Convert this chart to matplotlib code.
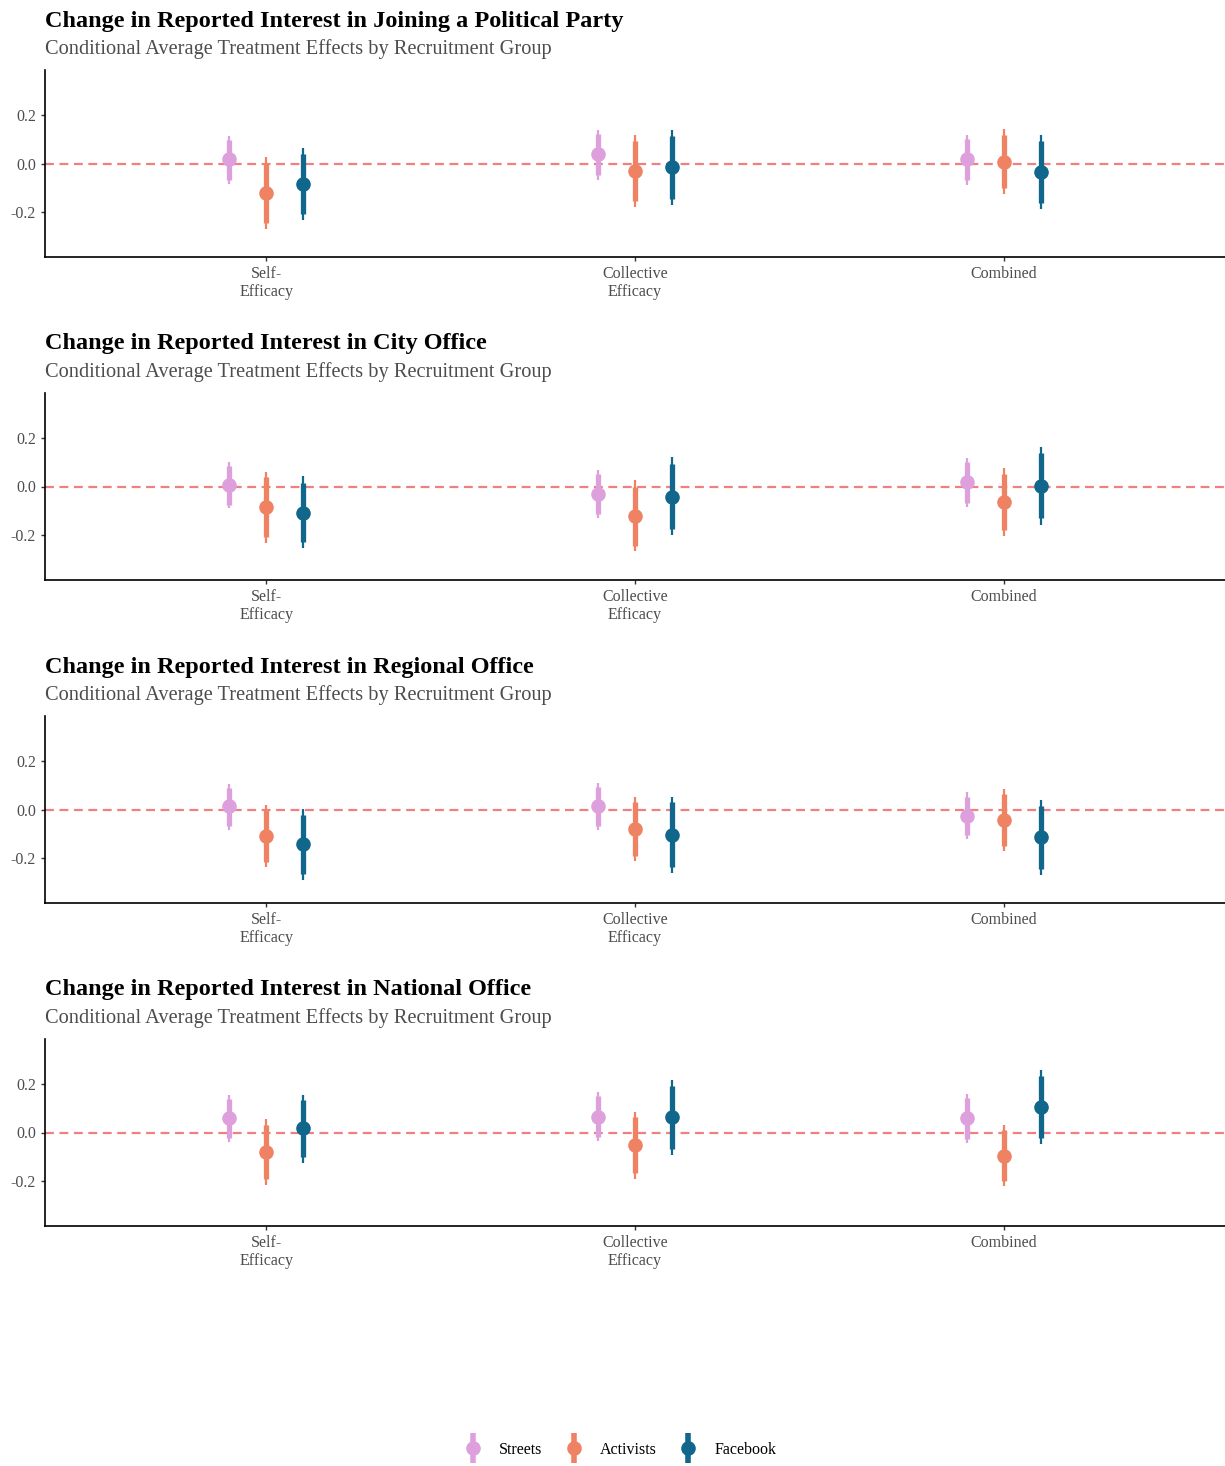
import matplotlib
matplotlib.use("Agg")
import matplotlib.pyplot as plt
from matplotlib.lines import Line2D
from matplotlib.legend_handler import HandlerTuple
import numpy as np

plt.rcParams['font.family'] = ['Liberation Serif', 'DejaVu Serif']

titles = ['Change in Reported Interest in Joining a Political Party',
          'Change in Reported Interest in City Office',
          'Change in Reported Interest in Regional Office',
          'Change in Reported Interest in National Office']
subtitle = 'Conditional Average Treatment Effects by Recruitment Group'
categories = ['Self-\nEfficacy', 'Collective\nEfficacy', 'Combined']
groups = ['Streets', 'Activists', 'Facebook']
colors = ['#DDA0DD', '#EF8262', '#10668B']

# [panel][group] -> values for the three treatments
estimate = [
    [[0.018, 0.038, 0.018], [-0.121, -0.030, 0.008], [-0.083, -0.016, -0.034]],
    [[0.007, -0.030, 0.019], [-0.085, -0.121, -0.063], [-0.107, -0.041, 0.003]],
    [[0.014, 0.015, -0.026], [-0.108, -0.078, -0.044], [-0.142, -0.103, -0.112]],
    [[0.059, 0.063, 0.059], [-0.081, -0.051, -0.095], [0.018, 0.062, 0.104]],
]
inner_lo = [
    [[-0.067, -0.049, -0.069], [-0.244, -0.155, -0.102], [-0.205, -0.146, -0.162]],
    [[-0.074, -0.111, -0.066], [-0.208, -0.244, -0.179], [-0.227, -0.175, -0.129]],
    [[-0.067, -0.067, -0.105], [-0.215, -0.190, -0.151], [-0.266, -0.236, -0.242]],
    [[-0.021, -0.019, -0.026], [-0.192, -0.167, -0.197], [-0.101, -0.067, -0.023]],
]
inner_hi = [
    [[0.097, 0.121, 0.099], [0.001, 0.093, 0.118], [0.039, 0.113, 0.094]],
    [[0.085, 0.051, 0.101], [0.038, 0.000, 0.053], [0.016, 0.093, 0.136]],
    [[0.089, 0.093, 0.052], [-0.001, 0.032, 0.062], [-0.021, 0.029, 0.015]],
    [[0.137, 0.148, 0.141], [0.032, 0.063, 0.011], [0.132, 0.189, 0.230]],
]
outer_lo = [
    [[-0.083, -0.067, -0.087], [-0.268, -0.178, -0.124], [-0.233, -0.171, -0.186]],
    [[-0.090, -0.127, -0.082], [-0.232, -0.266, -0.203], [-0.252, -0.200, -0.156]],
    [[-0.082, -0.085, -0.122], [-0.236, -0.211, -0.170], [-0.288, -0.260, -0.267]],
    [[-0.037, -0.036, -0.041], [-0.215, -0.190, -0.218], [-0.126, -0.092, -0.048]],
]
outer_hi = [
    [[0.113, 0.137, 0.117], [0.026, 0.116, 0.141], [0.063, 0.137, 0.118]],
    [[0.101, 0.067, 0.118], [0.060, 0.026, 0.075], [0.044, 0.121, 0.162]],
    [[0.104, 0.110, 0.070], [0.018, 0.053, 0.082], [0.003, 0.053, 0.038]],
    [[0.155, 0.164, 0.159], [0.055, 0.086, 0.032], [0.155, 0.216, 0.255]],
]

W, H = 1225, 1466
fig = plt.figure(figsize=(W / 100, H / 100), dpi=100)

gray = '#4D4D4D'
x = np.arange(1, len(categories) + 1)
dodge = [-0.1, 0.0, 0.1]

for p in range(4):
    top = 70 + 323 * p
    ax = fig.add_axes([45 / W, 1 - (top + 187) / H, (W - 45) / W, 187 / H])
    ax.axhline(0, color='#F08080', lw=1.6, ls=(0, (4, 2.5)), zorder=1)
    for g in range(3):
        xs = x + dodge[g]
        ax.vlines(xs, outer_lo[p][g], outer_hi[p][g], color=colors[g], lw=1.6, zorder=2)
        ax.vlines(xs, inner_lo[p][g], inner_hi[p][g], color=colors[g], lw=3.8, zorder=3)
        ax.plot(xs, estimate[p][g], 'o', color=colors[g], ms=10.5, mec='none', zorder=4)
    ax.set_xlim(0.4, 3.6)
    ax.set_ylim(-0.383, 0.383)
    ax.set_yticks([-0.2, 0.0, 0.2])
    ax.set_yticklabels(['-0.2', '0.0', '0.2'])
    ax.set_xticks(x)
    ax.set_xticklabels(categories, linespacing=1.15)
    for s in ['top', 'right']:
        ax.spines[s].set_visible(False)
    for s in ['left', 'bottom']:
        ax.spines[s].set_linewidth(1.2)
    ax.tick_params(colors='#333333', labelcolor=gray, labelsize=11.5, length=3, width=1)
    fig.text(45 / W, 1 - (top - 49) / H, titles[p], fontsize=17.5, fontweight='bold',
             va='center', ha='left', color='black')
    fig.text(45 / W, 1 - (top - 21) / H, subtitle, fontsize=14.7,
             va='center', ha='left', color=gray)

handles = []
for g in range(3):
    bar = Line2D([], [], marker='|', markersize=21, mew=4, ls='', color=colors[g])
    dot = Line2D([], [], marker='o', markersize=10.5, mec='none', ls='', color=colors[g])
    handles.append((bar, dot))
fig.legend(handles, groups, loc='center', bbox_to_anchor=(0.505, 1 - 1450 / H),
           ncol=3, frameon=False, fontsize=11.5, handler_map={tuple: HandlerTuple(ndivide=1)},
           handlelength=1.5, columnspacing=1.2, handletextpad=0.9)

fig.savefig('out.png', dpi=100)
